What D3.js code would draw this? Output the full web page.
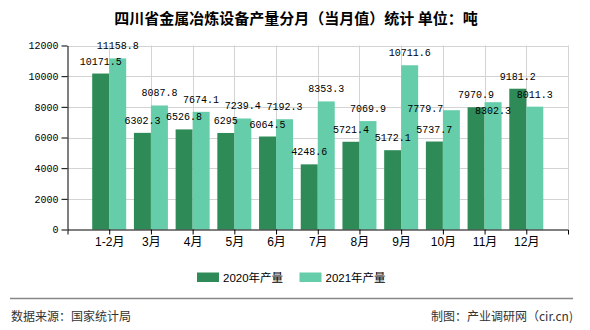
<!DOCTYPE html>
<html>
<head>
<meta charset="utf-8">
<script src="https://cdn.jsdelivr.net/npm/d3@7"></script>
<style>
  html, body { margin: 0; padding: 0; background: #fff; }
  svg { display: block; }
</style>
</head>
<body>
<svg id="chart" width="590" height="330"></svg>
<script>
const categories = ["1-2月", "3月", "4月", "5月", "6月", "7月", "8月", "9月", "10月", "11月", "12月"];
const values2020 = [10171.5, 6302.3, 6526.8, 6295, 6064.5, 4248.6, 5721.4, 5172.1, 5737.7, 7970.9, 9181.2];
const values2021 = [11158.8, 8087.8, 7674.1, 7239.4, 7192.3, 8353.3, 7069.9, 10711.6, 7779.7, 8302.3, 8011.3];
const seriesNames = ["2020年产量", "2021年产量"];
const yTicks = [0, 2000, 4000, 6000, 8000, 10000, 12000];
const titleText = "四川省金属冶炼设备产量分月（当月值）统计 单位：吨";
const sourceText = "数据来源：国家统计局";
const creditText = "制图：产业调研网（cir.cn)";

const colors = ["#2e8b57", "#66cdaa"];
const svg = d3.select("#chart");
const pLeft = 67.5, pRight = 568, pTop = 45.5, pBottom = 229.5;
const barW = 17;

const x = d3.scalePoint().domain(categories).range([pLeft, pRight]).padding(1);
const y = d3.scaleLinear().domain([0, 12000]).range([pBottom, pTop]);

// title
svg.append("text")
  .attr("x", 296).attr("y", 24)
  .attr("text-anchor", "middle")
  .attr("font-family", "'Noto Sans CJK SC', sans-serif")
  .attr("font-size", 15).attr("font-weight", "bold")
  .attr("fill", "#000")
  .text(titleText);

// grid
const grid = svg.append("g").attr("stroke", "#d3d3d3").attr("stroke-width", 1);
yTicks.filter(d => d > 0).forEach(t => {
  grid.append("line").attr("x1", pLeft).attr("x2", pRight)
    .attr("y1", Math.round(y(t)) + 0.5).attr("y2", Math.round(y(t)) + 0.5);
});
categories.forEach(c => {
  grid.append("line").attr("x1", Math.round(x(c)) + 0.5).attr("x2", Math.round(x(c)) + 0.5)
    .attr("y1", pTop).attr("y2", pBottom);
});
grid.append("line").attr("x1", pRight + 0.5).attr("x2", pRight + 0.5).attr("y1", pTop).attr("y2", pBottom);

// bars
const series = [values2020, values2021];
series.forEach((vals, si) => {
  svg.append("g").selectAll("rect").data(vals).join("rect")
    .attr("x", (d, i) => x(categories[i]) - barW + si * barW)
    .attr("y", d => y(d))
    .attr("width", barW)
    .attr("height", d => y(0) - y(d))
    .attr("fill", colors[si]);
});

// axes
const yAxis = svg.append("g").attr("transform", `translate(${pLeft},0)`)
  .call(d3.axisLeft(y).tickValues(yTicks).tickSize(6).tickSizeOuter(0).tickPadding(3).tickFormat(d3.format("d")));
const xAxis = svg.append("g").attr("transform", `translate(0,${pBottom})`)
  .call(d3.axisBottom(x).tickSize(5).tickSizeOuter(5).tickPadding(3));
[yAxis, xAxis].forEach(a => {
  a.selectAll("path, line").attr("stroke", "#000");
  a.selectAll("text").attr("fill", "#000");
});
yAxis.selectAll("text").attr("font-family", "'Liberation Mono', monospace").attr("font-size", 10);
xAxis.selectAll("text").attr("font-family", "'Liberation Sans', 'Noto Sans CJK SC', sans-serif").attr("font-size", 12);

// value labels (nudges for overlapping labels)
const nudge = { "1-8": [-26, 10.5], "1-9": [0, 20.5] };
series.forEach((vals, si) => {
  svg.append("g").selectAll("text").data(vals).join("text")
    .attr("x", (d, i) => x(categories[i]) - barW / 2 + si * barW + ((nudge[si + "-" + i] || [0, 0])[0]))
    .attr("y", (d, i) => y(d) - 9 + ((nudge[si + "-" + i] || [0, 0])[1]))
    .attr("text-anchor", "middle")
    .attr("font-family", "'Liberation Mono', monospace")
    .attr("font-size", 10)
    .attr("fill", "#000")
    .text(d => d);
});

// legend
const legendX = [197, 299.5];
seriesNames.forEach((n, i) => {
  svg.append("rect").attr("x", legendX[i]).attr("y", 272.5).attr("width", 22).attr("height", 9.5).attr("fill", colors[i]);
  svg.append("text").attr("x", legendX[i] + 26).attr("y", 282)
    .attr("font-family", "'Liberation Sans', 'Noto Sans CJK SC', sans-serif")
    .attr("font-size", 11.5).attr("fill", "#000").text(n);
});

// footer
svg.append("line").attr("x1", 10).attr("x2", 573).attr("y1", 298.5).attr("y2", 298.5)
  .attr("stroke", "#888").attr("stroke-width", 1.5);
svg.append("text").attr("x", 11).attr("y", 321)
  .attr("font-family", "'Noto Sans CJK SC', sans-serif").attr("font-size", 12).attr("fill", "#333")
  .text(sourceText);
svg.append("text").attr("x", 573).attr("y", 321).attr("text-anchor", "end")
  .attr("font-family", "'Noto Sans CJK SC', sans-serif").attr("font-size", 12).attr("fill", "#333")
  .text(creditText);
</script>
</body>
</html>
